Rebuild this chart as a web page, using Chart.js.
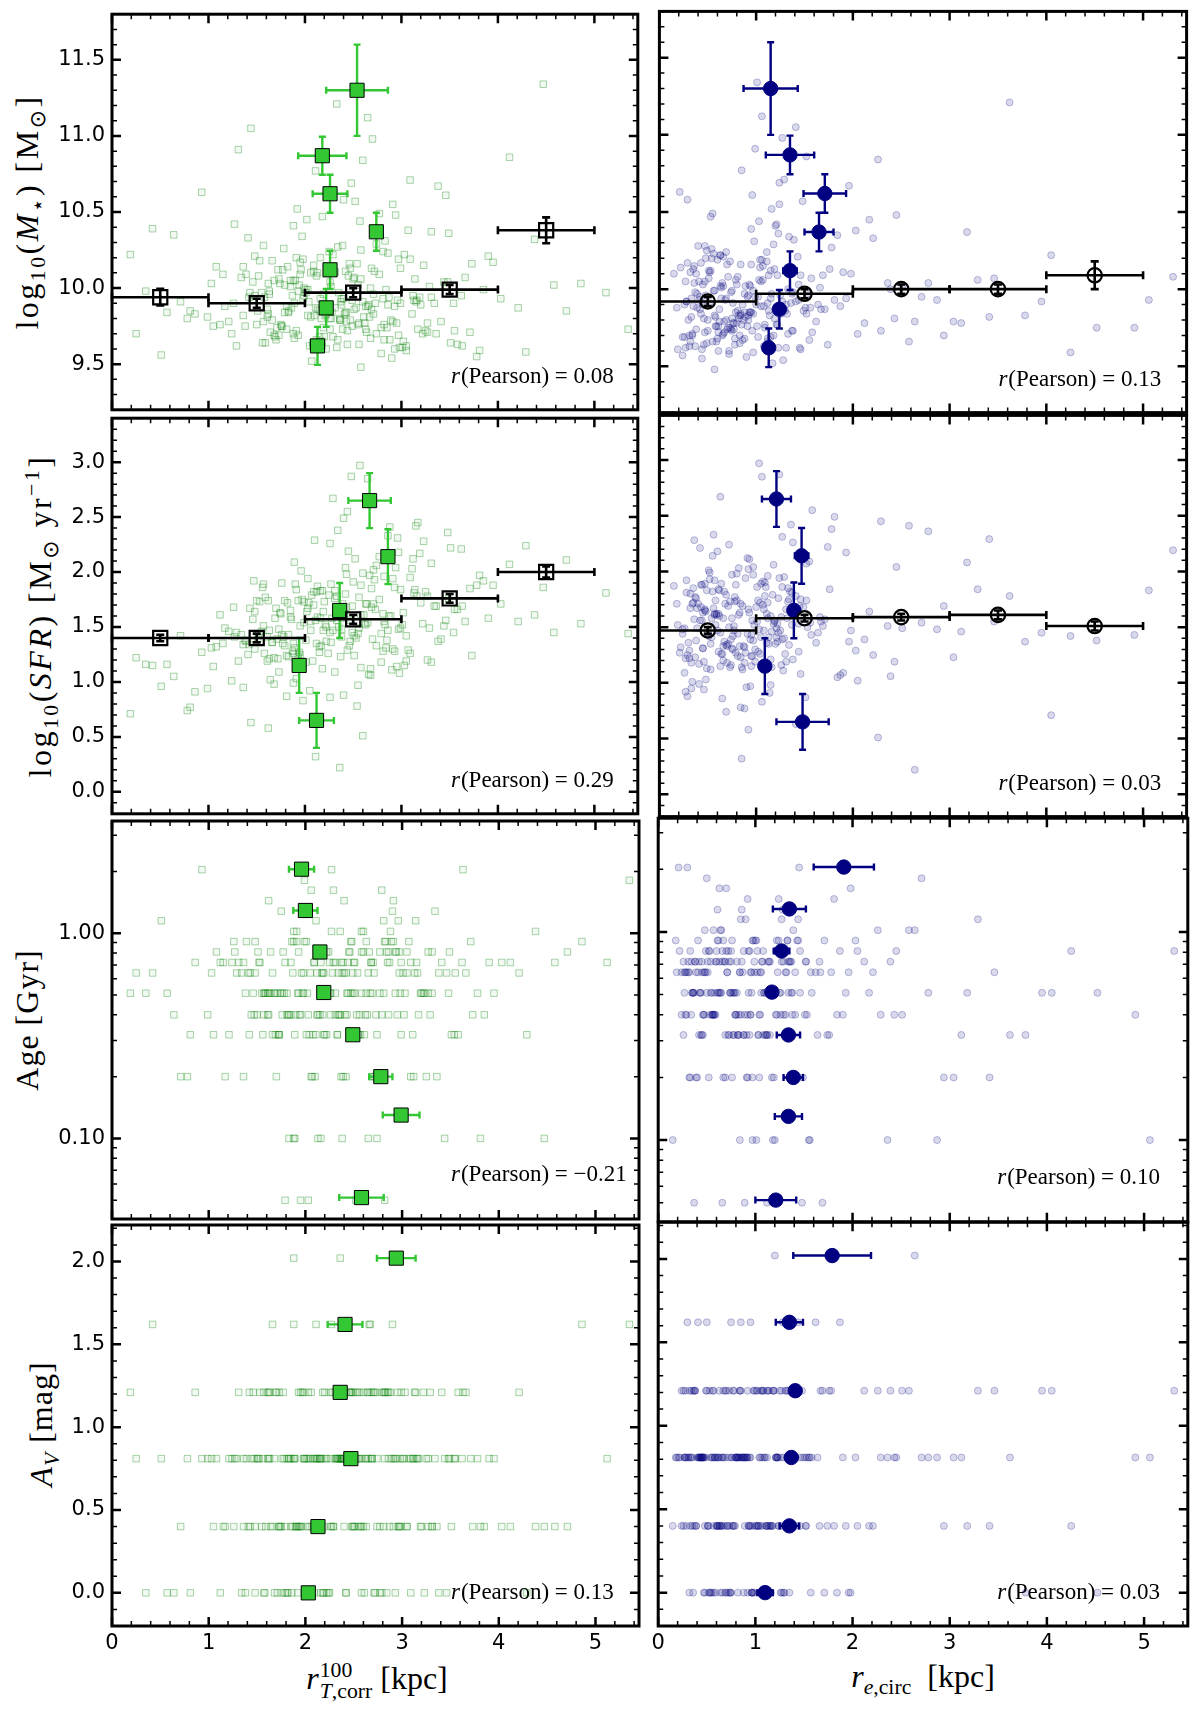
<!DOCTYPE html>
<html>
<head>
<meta charset="utf-8">
<script src="https://cdn.jsdelivr.net/npm/chart.js@4.4.1/dist/chart.umd.min.js"></script>
<style>
body { margin: 0; background: #fff; }
#wrap { position: relative; width: 1200px; height: 1711px; background: #fff; overflow: hidden; }
#wrap canvas { position: absolute; }
.ylab, .xlab { position: absolute; font-family: 'Liberation Serif', 'DejaVu Serif', serif; font-size: 32px; color: #000; white-space: nowrap; line-height: 1; }
.ylab { transform: translate(-50%, -50%) rotate(-90deg); letter-spacing: 1px; }
.ylab.wide { letter-spacing: 2.5px; }
.xlab { transform: translateX(-50%); }
.ylab sub, .ylab sup, .xlab sub { font-size: 0.68em; line-height: 0; }
.sym { font-family: 'DejaVu Sans', sans-serif; }
.stk { display: inline-block; font-size: 0.68em; line-height: 0.95; vertical-align: -0.42em; text-align: left; margin-left: 1px; }
.stk span { display: block; }
</style>
</head>
<body>
<div id="wrap">
  <div class="ylab wide" style="left:27px;top:212px">log<sub>10</sub>(<i>M</i><sub class="sym">⋆</sub>) [M<sub class="sym">⊙</sub>]</div>
  <div class="ylab wide" style="left:40px;top:616px">log<sub>10</sub>(<i>SFR</i>) [M<sub class="sym">⊙</sub> yr<sup>−1</sup>]</div>
  <div class="ylab" style="left:27px;top:1020px">Age [Gyr]</div>
  <div class="ylab" style="left:41px;top:1424px"><i>A<sub>V</sub></i> [mag]</div>
  <div class="xlab" style="left:377px;top:1660px"><i>r</i><span class="stk"><span>100</span><span><i>T</i>,corr</span></span> [kpc]</div>
  <div class="xlab" style="left:923px;top:1660px"><i>r</i><sub><i>e</i>,circ</sub>&nbsp; [kpc]</div>
</div>
<script>
// per-galaxy values (one entry per object)
const rT = [
  2.31,1.72,2.85,0.64,3.12,2.05,1.48,2.67,3.44,1.93,2.18,2.96,1.21,2.54,3.78,1.85,2.42,0.93,2.73,1.64,
  2.12,3.27,1.57,2.88,2.01,4.12,1.36,2.47,3.05,1.79,2.26,0.42,2.63,3.51,1.98,2.38,1.12,2.91,2.15,3.66,
  1.69,2.58,3.19,0.78,2.09,2.79,1.41,3.34,2.44,1.88,4.47,2.22,1.53,2.98,3.85,1.27,2.36,2.71,0.25,1.95,
  2.51,3.09,1.76,2.29,3.58,1.03,2.66,2.07,3.23,1.61,2.83,4.03,1.89,2.4,0.57,3.14,2.19,1.44,2.6,3.41,
  1.82,2.93,2.34,1.17,3.71,2.55,1.99,2.77,0.86,3.02,2.13,1.66,3.49,2.49,4.29,1.91,2.69,1.31,3.17,2.26,
  5.12,1.73,2.81,2.03,3.38,1.5,2.45,0.71,2.9,3.95,1.86,2.57,1.24,3.29,2.17,2.74,1.58,3.63,2.33,4.71,
  1.96,2.62,0.35,3.07,1.7,2.5,3.54,2.11,1.38,2.86,2.28,3.81,1.08,2.4,1.92,3.25,2.68,0.99,4.38,2.2,
  1.63,2.97,2.37,3.46,1.81,2.56,1.15,3.11,2.02,2.79,4.86,1.47,2.65,3.36,1.78,2.24,0.51,2.99,3.62,1.88,
  2.43,1.34,3.2,2.6,1.56,3.9,2.1,2.84,1.97,5.35,2.31,1.26,3.01,2.52,0.81,3.48,1.75,2.7,2.16,3.73,
  1.68,2.39,4.21,1.05,2.94,2.27,1.9,3.15,2.58,0.19,1.83,2.48,3.55,2.06,1.42,2.82,3.31,1.62,2.35,4.58,
  2.21,1.87,2.64,1.52,2.93,2.08,1.74,2.47,3.16,1.95,2.39,1.61,2.72,2.15,1.43,2.56,3.03,1.79,2.33,2.01,
  2.49,1.68,2.86,2.12,1.36,2.61,1.98,3.22,2.27,1.83,2.44,2.77,1.57,2.19,3.09,1.91,2.53,1.46,2.68,2.04,
  1.77,2.36,2.97,1.63,2.25,2.82,1.89,2.58,1.29,2.41,3.31,2.09,1.71,2.65,2.18,1.94,2.89,1.55,2.31,2.74,
  2.13,2.51,1.81,3.13,2.22,1.66,2.43,2.95,1.99,2.29,1.48,2.69,2.06,3.27,1.85,2.38,1.59,2.81,2.16,2.55,
  1.93,2.71,1.39,2.34,2.99,1.76,2.46,2.11,3.05,1.62,2.26,2.87,1.88,2.42,1.51,2.63,2.03,2.91,1.73,2.37
];
const rE = [
  0.62,1.15,0.38,1.84,0.91,0.27,1.43,0.75,2.36,1.02,0.53,1.27,3.12,0.84,0.44,1.66,0.97,0.21,1.31,2.05,
  0.71,1.09,0.47,2.58,0.88,1.52,0.33,1.19,4.25,0.66,1.38,0.95,0.18,1.74,1.06,2.87,0.59,1.24,0.79,3.46,
  1.12,0.49,1.93,0.69,1.35,0.24,2.21,0.86,1.58,0.41,1.01,3.78,0.73,1.46,0.57,1.21,2.64,0.92,0.31,1.69,
  0.81,1.29,4.91,0.63,1.08,0.45,1.87,1.17,0.36,2.43,0.98,0.68,1.55,0.29,1.26,3.29,0.77,1.41,0.52,2.12,
  1.04,0.61,1.78,0.39,1.33,0.94,2.71,0.55,1.14,0.83,0.15,1.62,1.23,3.95,0.72,0.48,1.49,0.99,2.29,0.65,
  1.37,0.26,1.11,0.89,1.96,0.58,5.31,0.76,1.28,0.43,1.71,1.03,0.34,2.51,0.87,1.18,0.64,1.45,3.62,0.93,
  0.51,1.22,0.74,2.03,0.32,1.07,1.64,0.85,4.52,0.56,1.32,0.97,0.22,1.81,1.16,0.67,2.39,0.46,1.39,0.78,
  1.25,0.6,3.04,0.96,1.51,0.37,1.13,0.82,2.17,0.7,1.44,0.28,1.06,2.94,0.54,1.3,0.9,1.76,0.42,1.2,
  0.8,1.57,0.35,2.26,1.1,0.66,3.41,0.75,1.34,0.5,1.9,1.0,0.19,1.48,0.88,2.78,0.61,1.27,5.06,0.95,
  1.15,0.4,1.67,0.73,2.45,0.3,1.05,1.36,0.57,4.05,0.84,1.24,0.47,1.98,0.69,1.12,3.18,0.92,1.53,0.63,
  0.58,1.02,0.34,0.81,1.27,0.46,0.93,0.67,1.41,0.29,0.75,1.13,0.52,0.88,0.39,1.21,0.63,1.52,0.44,0.97,
  0.71,0.27,1.08,0.55,1.34,0.82,0.41,1.18,0.64,0.95,0.31,1.46,0.77,0.48,1.04,0.61,1.29,0.36,0.86,1.12,
  0.53,0.92,0.24,1.38,0.69,1.01,0.45,0.79,1.23,0.57,0.33,1.07,0.74,1.56,0.49,0.89,0.62,1.16,0.38,0.83,
  1.26,0.51,0.96,0.28,0.72,1.11,0.43,0.85,1.33,0.6,0.99,0.35,1.19,0.66,0.47,1.05,0.78,1.44,0.54,0.91,
  0.37,0.84,1.22,0.59,0.26,1.09,0.7,0.42,1.31,0.8,0.5,1.15,0.65,0.32,0.94,1.37,0.56,0.76,1.03,0.45
];
const logM = [
  9.87,10.12,9.74,10.35,9.95,9.62,10.21,9.81,10.04,9.69,10.47,9.92,9.78,10.16,9.55,10.01,9.84,10.63,9.9,9.71,
  10.08,9.77,10.28,9.66,9.97,10.86,9.82,10.13,9.59,10.02,9.73,10.39,9.88,9.64,10.19,9.93,9.76,10.55,9.85,10.07,
  9.68,10.25,9.94,9.8,10.11,9.57,10.33,9.9,9.72,10.05,11.34,9.83,10.18,9.61,9.99,10.42,9.79,9.96,9.7,10.09,
  9.86,10.71,9.75,10.22,9.63,10.03,9.89,9.52,10.15,9.81,10.31,9.93,9.67,10.58,9.84,10.06,9.74,11.05,9.91,9.78,
  10.14,9.6,10.27,9.88,9.71,10.02,9.95,10.49,9.83,9.65,10.1,9.79,10.36,9.92,9.58,10.2,9.86,10.91,9.73,10.04,
  9.97,9.69,10.24,9.82,10.67,9.76,10.08,9.91,9.54,10.17,9.87,10.44,9.7,10.01,9.8,10.29,9.94,9.62,11.21,9.85,
  10.12,9.77,9.98,10.38,9.66,10.06,9.9,10.77,9.75,10.23,9.84,9.59,10.14,9.93,10.52,9.72,10.0,9.81,10.32,9.68,
  9.96,10.19,9.79,10.61,9.88,9.63,10.09,9.83,10.45,9.74,10.03,9.92,11.12,9.7,10.26,9.86,9.56,10.13,9.95,10.41,
  9.78,10.07,9.89,10.84,9.64,10.21,9.82,9.99,10.34,9.73,10.11,9.9,9.61,10.57,9.85,10.04,9.76,10.98,9.93,10.16,
  9.69,10.28,9.87,9.75,10.48,9.8,10.05,9.91,9.48,10.22,9.84,10.69,9.72,10.1,9.94,9.66,10.37,9.83,9.97,10.02,
  9.82,9.95,9.71,10.08,9.88,9.64,10.03,9.79,9.92,10.17,9.73,9.86,10.11,9.68,9.97,9.77,10.22,9.84,9.61,9.99,
  9.75,10.05,9.89,9.66,10.14,9.81,9.93,9.7,10.01,9.85,9.63,10.09,9.78,9.96,10.19,9.72,9.87,10.04,9.67,9.91,
  10.12,9.8,9.69,9.98,10.24,9.76,9.9,10.06,9.62,9.83,9.94,10.15,9.74,9.88,9.65,10.02,9.79,9.97,10.1,9.7,
  9.86,10.07,9.73,9.92,9.6,10.18,9.84,9.77,10.0,9.68,9.95,10.13,9.81,9.71,10.05,9.89,9.64,9.93,10.2,9.76,
  9.98,9.83,10.09,9.66,9.9,9.75,10.16,9.87,9.62,10.03,9.8,9.94,9.7,10.11,9.85,9.73,9.99,9.78,10.06,9.91
];
const logSFR = [
  1.83,1.21,1.38,1.05,2.12,0.92,1.64,1.97,1.51,1.74,1.12,2.31,1.46,0.78,1.88,1.59,2.04,1.27,1.66,1.02,
  1.35,1.78,1.89,2.41,1.18,2.07,0.95,1.56,1.42,1.33,2.26,1.15,1.71,2.22,0.83,1.48,1.61,1.94,1.27,1.55,
  1.58,1.13,2.17,0.74,1.82,1.44,1.25,1.69,2.55,0.99,1.86,1.37,1.73,1.08,1.92,1.41,0.22,2.02,1.22,1.51,
  1.24,1.95,1.43,2.67,1.66,1.31,1.07,1.79,2.28,1.19,1.52,1.71,2.09,0.88,1.16,1.84,1.47,0.63,1.99,1.39,
  1.72,1.28,2.38,1.49,1.85,0.97,1.54,2.14,0.91,1.63,1.87,1.36,1.76,1.45,2.24,1.03,1.68,1.19,2.45,0.86,
  1.81,1.09,1.62,1.94,1.37,1.74,2.19,1.42,1.11,1.88,1.57,2.97,1.01,1.49,1.33,2.06,1.26,1.69,1.78,2.11,
  2.01,1.53,1.16,1.29,1.67,1.91,1.45,0.32,1.38,2.33,1.58,1.97,1.32,2.49,1.14,1.82,1.06,0.94,1.61,1.73,
  1.47,2.18,1.23,1.56,0.87,1.77,1.35,2.03,1.64,1.18,1.53,1.92,2.85,1.69,1.41,1.26,0.96,1.84,2.21,1.35,
  1.98,1.43,1.72,0.51,1.86,1.58,2.29,1.31,1.75,1.44,1.09,1.68,1.52,2.12,0.77,2.36,1.62,1.39,1.83,1.24,
  0.98,1.71,1.55,1.14,2.04,1.36,1.89,2.42,1.61,0.71,1.23,2.87,1.66,1.47,1.34,1.96,2.08,0.58,1.5,1.45,
  1.52,1.28,1.71,1.44,1.86,1.19,1.63,1.37,1.78,1.25,1.58,1.41,1.93,1.32,1.67,1.49,1.15,1.74,1.56,1.38,
  1.69,1.22,1.47,1.82,1.34,1.61,1.17,1.53,1.89,1.43,1.29,1.75,1.51,1.64,1.26,1.84,1.4,1.57,1.12,1.72,
  1.35,1.66,1.48,1.21,1.79,1.55,1.31,1.88,1.45,1.62,1.18,1.7,1.39,1.54,1.83,1.27,1.6,1.46,1.76,1.33,
  1.59,1.42,1.24,1.81,1.5,1.36,1.68,1.14,1.73,1.47,1.3,1.85,1.55,1.2,1.65,1.41,1.77,1.28,1.58,1.44,
  1.23,1.71,1.37,1.62,1.49,1.9,1.33,1.56,1.19,1.74,1.45,1.6,1.26,1.8,1.39,1.52,1.67,1.3,1.48,1.63
];
const ageGyr = [
  0.51,0.32,0.72,0.40,0.20,0.64,0.91,0.51,0.10,0.81,0.40,1.15,0.32,0.64,0.51,0.72,0.20,2.04,0.40,0.81,
  0.64,0.51,0.40,1.02,0.32,0.72,0.20,0.51,0.81,0.05,0.40,0.64,0.91,0.32,0.51,0.10,0.72,1.44,0.40,0.64,
  0.32,0.81,0.51,0.20,0.72,0.40,0.64,1.28,0.51,0.91,0.10,0.32,0.72,0.51,0.40,0.81,1.02,0.20,0.64,0.05,
  0.51,0.72,0.40,1.62,0.32,0.64,0.81,0.20,0.51,0.40,0.91,0.72,0.10,0.64,0.51,1.15,0.32,0.40,0.81,0.72,
  0.40,0.51,0.64,0.20,0.91,0.32,1.81,0.51,0.72,0.40,0.10,0.64,0.81,0.51,0.32,1.02,0.20,0.72,0.40,0.51,
  0.72,0.32,0.51,0.05,0.64,0.40,0.81,0.20,1.28,0.51,0.91,0.32,0.72,0.40,0.64,0.10,0.51,2.04,0.32,0.81,
  0.64,0.40,0.51,0.91,0.20,0.72,0.32,1.15,0.51,0.40,0.64,0.10,0.81,1.44,0.51,0.20,0.72,0.40,1.02,0.32,
  0.51,0.81,0.20,0.64,0.40,0.05,0.72,0.32,0.51,1.62,0.91,0.40,0.64,0.20,0.51,0.81,1.15,0.32,0.72,0.10,
  0.40,0.64,0.51,1.02,0.32,0.72,0.20,0.81,0.51,1.81,0.40,0.91,0.64,0.05,0.32,0.51,1.28,0.72,0.10,0.40,
  0.51,0.20,0.64,0.32,0.81,2.04,0.40,0.72,1.02,0.51,0.10,0.91,0.64,1.62,0.32,0.05,0.51,1.44,0.40,0.72,
  0.51,0.64,0.40,0.72,0.81,0.32,0.51,0.91,0.64,0.40,0.72,0.51,0.20,0.81,0.64,0.40,0.51,0.72,0.32,0.91,
  0.64,0.51,0.81,0.40,0.72,0.32,0.64,0.51,1.02,0.40,0.72,0.81,0.51,0.64,0.20,0.91,0.40,0.51,0.72,0.32,
  0.81,0.40,0.64,0.51,0.72,0.91,0.32,0.51,0.64,0.40,0.81,0.72,0.51,0.10,0.64,0.40,0.91,0.51,0.72,0.32,
  0.40,0.72,0.51,0.64,0.81,0.32,0.51,0.40,0.91,0.72,0.64,0.51,0.20,0.81,0.40,0.64,0.51,1.15,0.72,0.32,
  0.51,0.64,0.91,0.40,0.72,0.51,0.81,0.32,0.64,0.40,0.51,0.72,1.02,0.64,0.81,0.51,0.40,0.91,0.32,0.72
];
const avMag = [
  0.81,0.4,1.21,0.0,0.81,0.81,0.4,1.62,0.81,1.21,0.0,0.4,0.81,1.21,0.81,0.4,0.0,0.81,1.21,0.4,
  0.4,0.81,0.0,1.21,0.81,0.4,0.81,1.21,0.4,0.0,0.81,1.62,0.81,0.4,1.21,0.81,0.0,0.4,0.81,1.21,
  1.21,0.81,0.4,0.81,0.0,1.21,0.4,0.81,0.81,1.62,0.4,0.0,1.21,0.81,0.4,0.81,2.02,0.0,0.81,1.21,
  0.81,0.0,0.81,0.4,1.21,0.81,1.62,0.4,0.0,0.81,1.21,0.4,0.81,0.81,0.0,1.21,0.4,0.81,0.4,1.21,
  0.0,0.81,1.21,0.4,0.81,0.4,0.81,0.0,1.21,0.81,0.4,1.62,0.81,1.21,0.0,0.4,0.81,1.21,0.81,0.4,
  0.81,1.21,0.4,0.81,0.0,0.81,1.21,0.4,1.62,0.81,0.0,0.4,0.81,1.21,0.81,0.4,0.0,1.21,0.81,0.4,
  0.4,0.81,0.0,0.81,1.21,0.4,0.81,1.62,0.0,0.81,1.21,0.4,0.81,0.4,0.0,0.81,1.21,0.81,0.4,1.21,
  1.21,0.4,0.81,0.0,0.81,1.21,0.4,0.81,0.4,0.0,1.62,0.81,1.21,0.4,0.81,0.0,0.81,1.21,0.81,2.02,
  0.81,0.0,0.4,1.21,0.81,0.81,0.4,0.0,1.21,1.62,0.81,0.4,0.81,1.21,0.0,0.81,0.4,1.21,0.81,0.4,
  0.0,0.81,1.21,0.4,0.81,1.62,0.4,0.81,0.0,1.21,0.81,0.4,0.81,0.0,1.21,0.81,0.4,1.21,0.81,0.4,
  0.81,0.4,1.21,0.81,0.0,0.81,0.4,1.21,0.81,0.4,0.81,1.21,0.0,0.81,0.4,0.81,1.21,0.4,0.81,0.0,
  0.4,0.81,1.21,0.81,0.4,0.0,0.81,1.21,0.4,0.81,0.81,0.4,1.21,0.0,0.81,0.4,0.81,1.21,0.81,0.4,
  1.21,0.81,0.4,0.81,0.0,1.21,0.81,0.4,0.81,1.21,0.4,0.81,0.0,0.81,1.21,0.4,0.81,0.4,1.21,0.81,
  0.81,0.4,0.0,1.21,0.81,0.4,0.81,1.21,0.81,0.4,0.0,0.81,1.21,0.4,0.81,0.81,0.4,1.21,0.0,0.81,
  0.4,1.21,0.81,0.81,0.4,0.0,1.21,0.81,0.4,0.81,1.21,0.4,0.81,0.0,0.81,0.4,1.21,0.81,0.4,0.81
];

// medians in bins of the y quantity (filled symbols)
const massMed = [11.30, 10.87, 10.62, 10.37, 10.12, 9.87, 9.62];
const massMedErr = [0.30, 0.125, 0.125, 0.125, 0.125, 0.125, 0.125];
const massMedRT = [2.54, 2.18, 2.26, 2.74, 2.26, 2.22, 2.13];
const massMedRTErr = [0.32, 0.25, 0.18, 0.055, 0.03, 0.03, 0.07];
const massMedRE = [1.15, 1.35, 1.71, 1.65, 1.35, 1.24, 1.13];
const massMedREErr = [0.28, 0.25, 0.22, 0.15, 0.07, 0.03, 0.05];

const sfrMed = [2.65, 2.14, 1.65, 1.15, 0.65];
const sfrMedErr = [0.25, 0.25, 0.25, 0.25, 0.25];
const sfrMedRT = [2.67, 2.86, 2.36, 1.94, 2.12];
const sfrMedRTErr = [0.22, 0.03, 0.03, 0.03, 0.18];
const sfrMedRE = [1.21, 1.47, 1.39, 1.09, 1.48];
const sfrMedREErr = [0.15, 0.07, 0.03, 0.03, 0.27];

const ageMed = [2.05, 1.29, 0.81, 0.514, 0.32, 0.20, 0.13, 0.0515];
const ageMedRT = [1.96, 2.00, 2.15, 2.19, 2.49, 2.78, 2.99, 2.58];
const ageMedRTErr = [0.13, 0.125, 0.04, 0.04, 0.04, 0.12, 0.19, 0.23];
const ageMedRE = [1.91, 1.35, 1.27, 1.17, 1.34, 1.39, 1.34, 1.21];
const ageMedREErr = [0.31, 0.17, 0.08, 0.04, 0.12, 0.10, 0.14, 0.21];

const avMed = [2.02, 1.62, 1.21, 0.81, 0.40, 0.0];
const avMedRT = [2.94, 2.41, 2.36, 2.47, 2.13, 2.03];
const avMedRTErr = [0.20, 0.18, 0.03, 0.03, 0.03, 0.03];
const avMedRE = [1.79, 1.35, 1.41, 1.37, 1.35, 1.10];
const avMedREErr = [0.40, 0.14, 0.05, 0.03, 0.10, 0.08];

// medians in 1 kpc bins of size (open black symbols)
const sizeBins = [0.5, 1.5, 2.5, 3.5, 4.5];
const sizeBinHalf = [0.5, 0.5, 0.5, 0.5, 0.5];
const massBinRT = [9.94, 9.90, 9.97, 9.99, 10.38];
const massBinRTErr = [0.055, 0.03, 0.03, 0.03, 0.085];
const massBinRE = [9.92, 9.97, 10.00, 10.00, 10.09];
const massBinREErr = [0.03, 0.03, 0.03, 0.03, 0.09];
const sfrBinRT = [1.40, 1.40, 1.57, 1.76, 2.00];
const sfrBinRTErr = [0.03, 0.04, 0.04, 0.04, 0.05];
const sfrBinRE = [1.47, 1.58, 1.59, 1.61, 1.51];
const sfrBinREErr = [0.03, 0.03, 0.03, 0.04, 0.04];

const pearsonText = [['0.08', '0.13'], ['0.29', '0.03'], ['\u22120.21', '0.10'], ['0.13', '0.03']];

const xTicks = [0, 1, 2, 3, 4, 5];
const massTicks = [9.5, 10, 10.5, 11, 11.5];
const sfrTicks = [0, 0.5, 1, 1.5, 2, 2.5, 3];
const ageTicks = [0.1, 1];
const avTicks = [0, 0.5, 1, 1.5, 2];
const ageMinor = [0.05, 0.06, 0.07, 0.08, 0.09, 0.2, 0.3, 0.4, 0.5, 0.6, 0.7, 0.8, 0.9, 2, 3];

const GREEN = '#33c733';
const NAVY = '#000080';
const tickFont = { family: 'DejaVu Sans', size: 21 };

const colX = [112, 658];
const rowY = [10, 414, 818, 1222];
const panelW = 530, panelH = 404;

function steps(min, max, step, skip) {
  const out = [];
  for (let v = Math.ceil(min / step - 1e-9) * step; v <= max + 1e-9; v += step) {
    const r = Math.round(v * 1000) / 1000;
    if (!skip.some(s => Math.abs(s - r) < 1e-6)) out.push(r);
  }
  return out;
}

const errorBars = {
  id: 'errorBars',
  beforeDatasetDraw(chart, args) {
    const ds = chart.data.datasets[args.index];
    if (!ds.xErr && !ds.yErr) return;
    const { ctx, scales: { x, y } } = chart;
    const cap = ds.capSize;
    ctx.save();
    ctx.strokeStyle = ds.errColor;
    ctx.lineWidth = ds.errWidth;
    ds.data.forEach((p, i) => {
      const px = x.getPixelForValue(p.x), py = y.getPixelForValue(p.y);
      ctx.beginPath();
      if (ds.xErr && ds.xErr[i]) {
        const x0 = x.getPixelForValue(p.x - ds.xErr[i]), x1 = x.getPixelForValue(p.x + ds.xErr[i]);
        ctx.moveTo(x0, py); ctx.lineTo(x1, py);
        ctx.moveTo(x0, py - cap); ctx.lineTo(x0, py + cap);
        ctx.moveTo(x1, py - cap); ctx.lineTo(x1, py + cap);
      }
      if (ds.yErr && ds.yErr[i]) {
        const y0 = y.getPixelForValue(p.y - ds.yErr[i]), y1 = y.getPixelForValue(p.y + ds.yErr[i]);
        ctx.moveTo(px, y0); ctx.lineTo(px, y1);
        ctx.moveTo(px - cap, y0); ctx.lineTo(px + cap, y0);
        ctx.moveTo(px - cap, y1); ctx.lineTo(px + cap, y1);
      }
      ctx.stroke();
    });
    ctx.restore();
  }
};

const frameTicks = {
  id: 'frameTicks',
  afterDatasetsDraw(chart, args, o) {
    const { ctx, chartArea: a, scales: { x, y } } = chart;
    ctx.save();
    ctx.strokeStyle = '#000';
    const xm = (vals, len, w) => {
      ctx.lineWidth = w;
      ctx.beginPath();
      vals.forEach(v => {
        const p = x.getPixelForValue(v);
        ctx.moveTo(p, a.bottom); ctx.lineTo(p, a.bottom - len);
        ctx.moveTo(p, a.top); ctx.lineTo(p, a.top + len);
      });
      ctx.stroke();
    };
    const ym = (vals, len, w) => {
      ctx.lineWidth = w;
      ctx.beginPath();
      vals.forEach(v => {
        const p = y.getPixelForValue(v);
        ctx.moveTo(a.left, p); ctx.lineTo(a.left + len, p);
        ctx.moveTo(a.right, p); ctx.lineTo(a.right - len, p);
      });
      ctx.stroke();
    };
    xm(o.xMinor, 5, 1.5);
    xm(o.xMajor, 9, 2.5);
    ym(o.yMinor, 5, 1.5);
    ym(o.yMajor, 9, 2.5);
    ctx.lineWidth = 3;
    ctx.strokeRect(a.left, a.top, a.right - a.left, a.bottom - a.top);
    ctx.restore();
  }
};

const pearson = {
  id: 'pearson',
  beforeDatasetsDraw(chart, args, o) {
    const { ctx, chartArea: a } = chart;
    ctx.save();
    ctx.fillStyle = '#000';
    ctx.textBaseline = 'middle';
    let px = a.left + 339;
    const py = a.bottom - o.lift;
    ctx.font = 'italic 23px "Liberation Serif"';
    ctx.fillText('r', px, py);
    px += ctx.measureText('r').width + 1;
    ctx.font = '23px "Liberation Serif"';
    ctx.fillText('(Pearson) = ' + o.text, px, py);
    ctx.restore();
  }
};

function points(xs, ys) {
  return xs.map((v, i) => ({ x: v, y: ys[i] }));
}

function panel(row, col, cfg) {
  const mL = col === 0 ? 112 : 8, mR = 8, mT = 8, mB = row === 3 ? 44 : 8;
  const w = panelW + mL + mR, h = panelH + mT + mB;
  const cv = document.createElement('canvas');
  cv.width = w; cv.height = h;
  cv.style.left = (colX[col] - mL) + 'px';
  cv.style.top = (rowY[row] - mT) + 'px';
  cv.style.width = w + 'px'; cv.style.height = h + 'px';
  document.getElementById('wrap').appendChild(cv);

  const left = col === 0;
  const galaxies = {
    label: 'galaxies', order: 3,
    data: points(left ? rT : rE, cfg.yAll),
    pointStyle: left ? 'rect' : 'circle',
    pointRadius: left ? 4.6 : 3.5,
    backgroundColor: left ? 'rgba(0,128,0,0.05)' : 'rgba(0,0,128,0.15)',
    borderColor: left ? 'rgba(0,128,0,0.34)' : 'rgba(0,0,128,0.25)',
    borderWidth: 1
  };
  const medians = {
    label: 'median', order: 2,
    data: points(left ? cfg.medRT : cfg.medRE, cfg.med),
    xErr: left ? cfg.medRTErr : cfg.medREErr, yErr: cfg.medErr,
    errColor: left ? GREEN : NAVY, errWidth: 2.4, capSize: 3.5,
    pointStyle: left ? 'rect' : 'circle',
    pointRadius: left ? 10 : 7.2,
    backgroundColor: left ? GREEN : NAVY,
    borderColor: left ? '#000' : NAVY,
    borderWidth: 1
  };
  const datasets = [galaxies, medians];
  if (cfg.bin) {
    datasets.push({
      label: 'size bins', order: 1,
      data: points(sizeBins, left ? cfg.bin[0] : cfg.bin[1]),
      xErr: sizeBinHalf, yErr: left ? cfg.binErr[0] : cfg.binErr[1],
      errColor: '#000', errWidth: 2.6, capSize: 4,
      pointStyle: left ? 'rect' : 'circle',
      pointRadius: left ? 10 : 7.2,
      backgroundColor: 'rgba(0,0,0,0)',
      borderColor: '#000',
      borderWidth: 2.2
    });
  }

  // keep the plot area at the fixed panel rectangle
  const noPad = s => { s.paddingTop = 0; s.paddingBottom = 0; s.paddingLeft = 0; s.paddingRight = 0; };

  new Chart(cv, {
    type: 'scatter',
    data: { datasets },
    options: {
      responsive: false,
      animation: false,
      events: [],
      layout: { padding: { top: mT, right: mR, left: 0, bottom: 0 } },
      plugins: {
        legend: { display: false },
        tooltip: { enabled: false },
        frameTicks: {
          xMajor: xTicks, xMinor: steps(0, 5.45, 0.2, xTicks),
          yMajor: cfg.ticks, yMinor: cfg.minor
        },
        pearson: { text: pearsonText[row][col], lift: row === 2 ? 44 : 33 }
      },
      scales: {
        x: {
          type: 'linear', min: 0, max: 5.45,
          afterBuildTicks: s => { s.ticks = xTicks.map(v => ({ value: v })); },
          afterFit: s => { s.height = mB; noPad(s); },
          grid: { display: false, drawTicks: false },
          border: { display: false },
          ticks: { display: row === 3, padding: 5, color: '#000', font: tickFont, callback: v => String(v) }
        },
        y: {
          type: cfg.log ? 'logarithmic' : 'linear', min: cfg.min, max: cfg.max,
          afterBuildTicks: s => { s.ticks = cfg.ticks.map(v => ({ value: v })); },
          afterFit: s => { s.width = mL; noPad(s); },
          grid: { display: false, drawTicks: false },
          border: { display: false },
          ticks: { display: left, padding: 7, color: '#000', font: tickFont, callback: v => Number(v).toFixed(cfg.digits) }
        }
      }
    },
    plugins: [errorBars, frameTicks, pearson]
  });
}

const rows = [
  { yAll: logM, min: 9.2, max: 11.8, ticks: massTicks, minor: steps(9.2, 11.8, 0.1, massTicks), digits: 1,
    med: massMed, medErr: massMedErr, medRT: massMedRT, medRTErr: massMedRTErr, medRE: massMedRE, medREErr: massMedREErr,
    bin: [massBinRT, massBinRE], binErr: [massBinRTErr, massBinREErr] },
  { yAll: logSFR, min: -0.2, max: 3.4, ticks: sfrTicks, minor: steps(-0.2, 3.4, 0.1, sfrTicks), digits: 1,
    med: sfrMed, medErr: sfrMedErr, medRT: sfrMedRT, medRTErr: sfrMedRTErr, medRE: sfrMedRE, medREErr: sfrMedREErr,
    bin: [sfrBinRT, sfrBinRE], binErr: [sfrBinRTErr, sfrBinREErr] },
  { yAll: ageGyr, log: true, min: 0.0405, max: 3.52, ticks: ageTicks, minor: ageMinor, digits: 2,
    med: ageMed, medErr: null, medRT: ageMedRT, medRTErr: ageMedRTErr, medRE: ageMedRE, medREErr: ageMedREErr },
  { yAll: avMag, min: -0.2, max: 2.22, ticks: avTicks, minor: steps(-0.2, 2.22, 0.1, avTicks), digits: 1,
    med: avMed, medErr: null, medRT: avMedRT, medRTErr: avMedRTErr, medRE: avMedRE, medREErr: avMedREErr }
];

rows.forEach((cfg, r) => { panel(r, 0, cfg); panel(r, 1, cfg); });
</script>
</body>
</html>
